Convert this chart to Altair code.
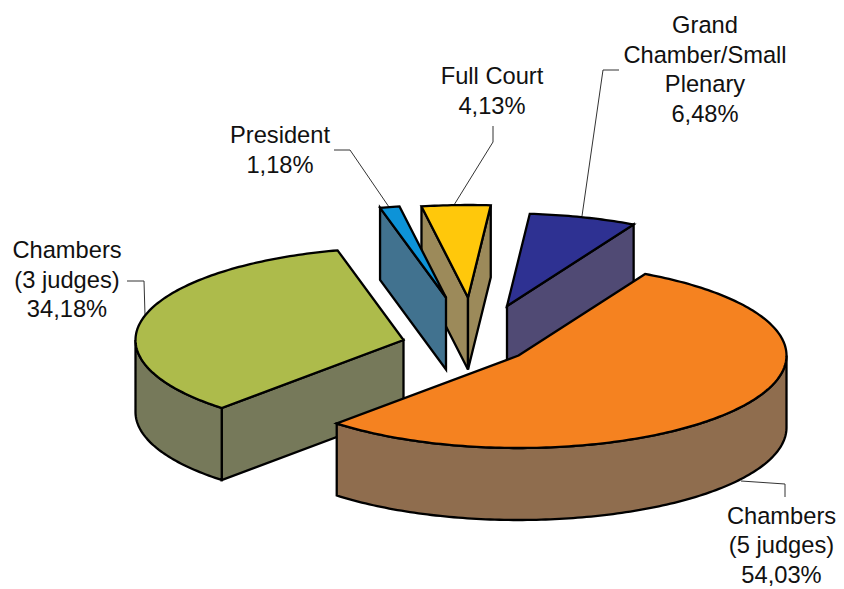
import math
import altair as alt

# Data
names = ["Chambers (5 judges)", "Chambers (3 judges)", "President", "Full Court", "Grand Chamber/Small Plenary"]
shares = [54.03, 34.18, 1.18, 4.13, 6.48]
label_lines = [
    ["Chambers", "(5 judges)", "54,03%"],
    ["Chambers", "(3 judges)", "34,18%"],
    ["President", "1,18%"],
    ["Full Court", "4,13%"],
    ["Grand", "Chamber/Small", "Plenary", "6,48%"],
]
top_colors = ["#F58220", "#ADBB4B", "#0D93D8", "#FFC80B", "#2E3192"]
side_colors = ["#8F6D4E", "#76795A", "#41728F", "#9C8A5A", "#504A74"]

# Layout (pixel space of the picture)
FIRST_ANGLE = 28.2
RX, RY, DEPTH = 268, 92.5, 72
apex = [(518.5, 355.5), (403.5, 340), (446, 297.5), (468, 297.5), (507, 306)]
draw_order = [4, 3, 2, 1, 0]
label_center = [(781.5, 516.5), (67, 251), (280, 136), (492, 77), (705, 26)]
LINE_H = 29.7
leaders = [
    [(741, 481), (785, 484), (785, 497)],
    [(127, 281), (144, 281), (145, 315)],
    [(334, 150), (350, 150), (389, 207)],
    [(493, 126), (493, 142), (454, 205)],
    [(619, 70), (603, 70), (582, 216)],
]


def pt(c, t, dz=0):
    r = math.radians(t)
    return [c[0] + RX * math.sin(r), c[1] - RY * math.cos(r) + dz]


def poly(points, color):
    ring = [list(p) for p in points] + [list(points[0])]
    return {"type": "Feature", "geometry": {"type": "Polygon", "coordinates": [ring]},
            "properties": {"fill": color}}


angles = [FIRST_ANGLE]
for s in shares:
    angles.append(angles[-1] + s * 3.6)

features = []
for i in draw_order:
    c, t0, t1 = apex[i], angles[i], angles[i + 1]
    side, top = side_colors[i], top_colors[i]
    low = (c[0], c[1] + DEPTH)
    if math.sin(math.radians(t0)) < 0:
        features.append(poly([c, pt(c, t0), pt(c, t0, DEPTH), low], side))
    if math.sin(math.radians(t1)) > 0:
        features.append(poly([c, pt(c, t1), pt(c, t1, DEPTH), low], side))
    a, b = max(t0, 90), min(t1, 270)
    if a < b:
        n = int(b - a) + 2
        ts = [a + (b - a) * k / n for k in range(n + 1)]
        features.append(poly([pt(c, t) for t in ts] + [pt(c, t, DEPTH) for t in reversed(ts)], side))
    n = max(int(t1 - t0), 2) + 2
    ts = [t0 + (t1 - t0) * k / n for k in range(n + 1)]
    features.append(poly([c] + [pt(c, t) for t in ts], top))

leader_features = [
    {"type": "Feature", "geometry": {"type": "LineString", "coordinates": [list(p) for p in l]},
     "properties": {"name": names[i]}}
    for i, l in enumerate(leaders)
]

rows = []
for i, lines in enumerate(label_lines):
    for j, line in enumerate(lines):
        rows.append({"x": label_center[i][0] - 8, "y": label_center[i][1] + j * LINE_H - 8, "t": line})

proj = alt.Projection(type="identity", scale=1, translate=[-8, -8])

leader_layer = alt.Chart(alt.Data(values=leader_features)).mark_geoshape(
    filled=False, stroke="#333333", strokeWidth=1
).project(**proj.to_dict())

slices = alt.Chart(alt.Data(values=features)).mark_geoshape(
    stroke="black", strokeWidth=2.3, strokeJoin="miter"
).encode(fill=alt.Fill("properties.fill:N", scale=None)).project(**proj.to_dict())

text = alt.Chart(alt.Data(values=rows)).mark_text(
    font="Liberation Sans", fontSize=23.7, color="#111111", align="center", baseline="middle"
).encode(
    x=alt.X("x:Q", scale=None, axis=None),
    y=alt.Y("y:Q", scale=None, axis=None),
    text="t:N",
)

chart = alt.layer(leader_layer, slices, text).properties(
    width=828, height=581, padding=0, autosize=alt.AutoSizeParams(type="none")
).configure_view(stroke=None)

chart.save("out.html", embed_options={"renderer": "svg", "actions": False})
